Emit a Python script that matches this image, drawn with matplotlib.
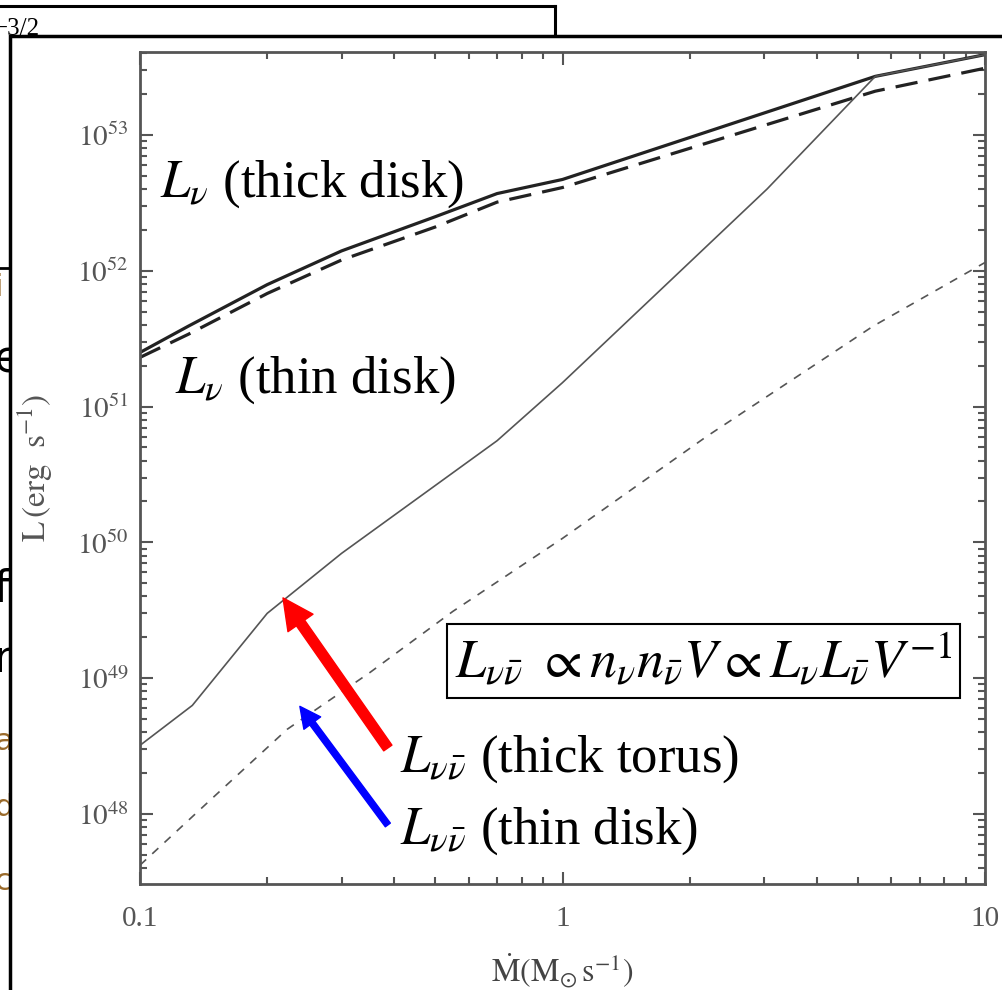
import numpy as np
import matplotlib
matplotlib.use('Agg')
import matplotlib.pyplot as plt
from matplotlib.patches import Rectangle, FancyArrowPatch
from matplotlib.lines import Line2D

plt.rcParams['mathtext.fontset'] = 'stix'
plt.rcParams['font.family'] = ['Liberation Serif', 'DejaVu Serif']

# neutrino luminosity, thick / thin disk (solid / dashed, heavy)
mdot_nu = [0.1, 0.13, 0.2, 0.3, 0.5, 0.7, 1.0, 5.5, 10]
L_nu_thick = [2.5e51, 3.9e51, 7.9e51, 1.4e52, 2.5e52, 3.7e52, 4.7e52, 2.7e53, 3.9e53]
L_nu_thin = [2.3e51, 3.4e51, 6.8e51, 1.2e52, 2.1e52, 3.2e52, 4.1e52, 2.1e53, 3.1e53]

# annihilation luminosity, thick torus (thin solid)
mdot_torus = [0.1, 0.133, 0.2, 0.3, 0.7, 1.0, 1.72, 3.05, 5.5, 10]
L_nn_torus = [3.2e48, 6.3e48, 3.0e49, 8.3e49, 5.6e50, 1.5e51, 7.4e51, 4.0e52, 2.7e53, 3.9e53]

# annihilation luminosity, thin disk (thin dashed)
mdot_disk = [0.1, 0.15, 0.223, 0.35, 0.55, 1.0, 2.19, 5.43, 10]
L_nn_disk = [4.2e47, 1.35e48, 4.2e48, 1.1e49, 3.1e49, 1.07e50, 6.0e50, 3.9e51, 1.15e52]

# arrows (tail, tip) in data coords
red_arrow = [(0.386, 3.06e48), (0.218, 3.9e49)]
blue_arrow = [(0.386, 8.3e47), (0.239, 6.2e48)]

yticks = [1e48, 1e49, 1e50, 1e51, 1e52, 1e53]
ytick_labels = [r'$10^{48}$', r'$10^{49}$', r'$10^{50}$', r'$10^{51}$', r'$10^{52}$', r'$10^{53}$']
xticks = [0.1, 1, 10]
xtick_labels = ['0.1', '1', '10']

W, H = 1003, 990
fig = plt.figure(figsize=(W / 100, H / 100), dpi=100)
fig.patch.set_facecolor('white')

# --- slide fragments behind the pasted picture ---
def fx(px):
    return px / W

def fy(py):
    return 1 - py / H

fig.add_artist(Line2D([0, fx(555)], [fy(6), fy(6)], color='black', lw=2.2, zorder=0.4))
fig.add_artist(Line2D([fx(555), fx(555)], [fy(6), fy(36)], color='black', lw=2.2, zorder=0.4))
fig.add_artist(Line2D([0, fx(10)], [fy(268), fy(268)], color='black', lw=2, zorder=0.4))
fig.text(fx(-6), fy(35), '−3/2', fontsize=18, color='black', va='baseline', zorder=0.5)
frag = [('e', 360, 'black', 32), ('f', 590, 'black', 32), ('n', 660, 'black', 32),
        ('i', 288, '#9a6a2a', 22), ('a', 742, '#9a6a2a', 22), ('d', 808, '#9a6a2a', 22),
        ('c', 882, '#9a6a2a', 22)]
for s, py, c, fs in frag:
    fig.text(fx(-6), fy(py), s, fontsize=fs, color=c, va='center',
             family=['DejaVu Sans'], zorder=0.5)

# pasted picture frame
fig.add_artist(Rectangle((fx(10), -0.01), 1 - fx(10) + 0.01, fy(36) + 0.01,
                         transform=fig.transFigure,
                         facecolor='white', edgecolor='black', lw=2.5, zorder=0.8))

# --- chart ---
ax = fig.add_axes([fx(140), fy(884), fx(985) - fx(140), fy(52) - fy(884)])
ax.set_zorder(1)
ax.set_xscale('log')
ax.set_yscale('log')
ax.set_xlim(0.1, 10)
ax.set_ylim(3.05e47, 4.08e53)

ax.plot(mdot_nu, L_nu_thick, color='#222222', lw=2.3)
ax.plot(mdot_nu, L_nu_thin, color='#222222', lw=2.3, dashes=(7, 3.5))
ax.plot(mdot_torus, L_nn_torus, color='#555555', lw=1.2)
ax.plot(mdot_disk, L_nn_disk, color='#555555', lw=1.2, dashes=(5, 5))

ax.set_xticks(xticks)
ax.set_xticklabels(xtick_labels)
ax.set_yticks(yticks)
ax.set_yticklabels(ytick_labels)
ax.tick_params(which='both', direction='in', top=True, right=True, color='#555555',
               labelcolor='#555555', labelsize=21)
ax.tick_params(which='major', length=9, width=1.5)
ax.tick_params(which='minor', length=5, width=1.5)
ax.tick_params(axis='x', pad=16)
ax.tick_params(axis='y', pad=8)
for sp in ax.spines.values():
    sp.set_color('#555555')
    sp.set_linewidth(2)

ax.set_xlabel(r'$\dot{\mathrm{M}}(\mathrm{M}_{\odot}\,\mathrm{s}^{-1})$', fontsize=23,
              color='#444444', labelpad=14)
ax.set_ylabel(r'$\mathrm{L}\,(\mathrm{erg\ \ s}^{-1})$', fontsize=24, color='#555555', labelpad=16)

# labels
lab_kw = dict(transform=ax.transAxes, fontsize=38, va='baseline', ha='left')
ax.text(0.024, 0.826, r'$L_{\nu}$ (thick disk)', **lab_kw)
ax.text(0.041, 0.591, r'$L_{\nu}$ (thin disk)', **lab_kw)
ax.text(0.308, 0.135, r'$L_{\nu\bar{\nu}}$ (thick torus)', **lab_kw)
ax.text(0.308, 0.049, r'$L_{\nu\bar{\nu}}$ (thin disk)', **lab_kw)
ax.text(0.667, 0.268,
        r'$L_{\nu\bar{\nu}}\ \propto n_{\nu}n_{\bar{\nu}}V\propto L_{\nu}L_{\bar{\nu}}V^{-1}$',
        transform=ax.transAxes, fontsize=39, ha='center', va='center',
        bbox=dict(boxstyle='square,pad=0.15', facecolor='white', edgecolor='black', lw=1.5))

ax.add_patch(FancyArrowPatch(red_arrow[0], red_arrow[1],
                             arrowstyle='simple,head_length=0.55,head_width=0.55,tail_width=0.18',
                             mutation_scale=40, color='#ff0000', shrinkA=0, shrinkB=0, zorder=5))
ax.add_patch(FancyArrowPatch(blue_arrow[0], blue_arrow[1],
                             arrowstyle='simple,head_length=0.5,head_width=0.5,tail_width=0.15',
                             mutation_scale=30, color='#0000ff', shrinkA=0, shrinkB=0, zorder=5))

fig.savefig('out.png', dpi=100)
